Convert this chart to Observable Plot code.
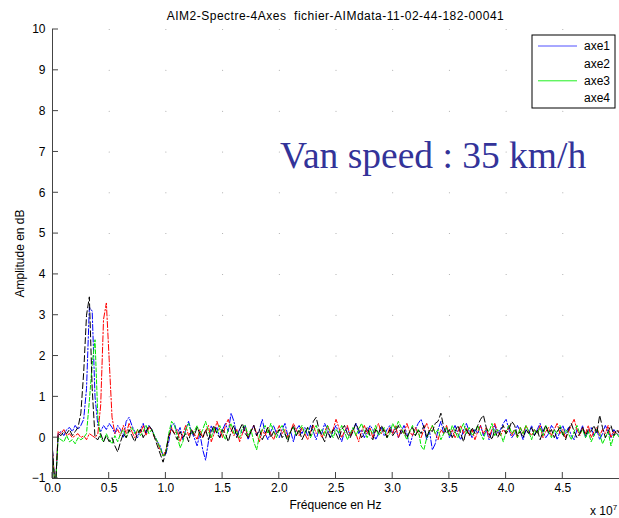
<!DOCTYPE html>
<html><head><meta charset="utf-8">
<script src="https://cdn.jsdelivr.net/npm/d3@7"></script>
<script src="https://cdn.jsdelivr.net/npm/@observablehq/plot@0.6"></script>
<style>body{margin:0;background:#fff}#chart{position:relative;width:619px;height:518px}</style>
</head><body><div id="chart"></div>
<script>
const titleText = "AIM2-Spectre-4Axes  fichier-AIMdata-11-02-44-182-00041";
const xLabel = "Fréquence en Hz";
const yLabel = "Amplitude en dB";
const annotation = "Van speed : 35 km/h";
const seriesNames = ["axe1", "axe2", "axe3", "axe4"];
const seriesColors = ["#0000ff", "#ff0000", "#00e600", "#000000"];
const legendColors = ["#5050ff", "#ff0000", "#20f020", "#000000"];
const seriesDash = ["6,2,1.5,2", "6,2,1.5,2", "4,2", "6,3"];
const legendShowLine = [true, false, true, false];
const xTicks = [0, 0.5, 1, 1.5, 2, 2.5, 3, 3.5, 4, 4.5];
const yTicks = [-1, 0, 1, 2, 3, 4, 5, 6, 7, 8, 9, 10];
const freqStep = 0.025; // bin width, in units of 10^7 Hz

const axe1 = [
-0.3,-1.3,0.1,0.15,0.05,0.2,0.25,0.15,0.3,0.2,
0.3,0.45,1.2,3.2,3.1,1.0,0.3,0.15,0.3,0.2,
0.35,0.25,0.1,0.3,0.2,0.0,0.4,0.5,0.3,0.15,
0.0,0.2,0.35,0.1,0.3,0.2,0.05,-0.1,-0.2,-0.45,
-0.4,-0.1,0.3,0.35,0.1,0.25,-0.05,0.2,0.4,0.15,
0.0,-0.2,0.1,-0.3,-0.55,-0.1,0.3,0.1,0.25,0.0,
0.2,0.35,0.15,0.6,0.4,0.05,0.2,0.1,0.3,-0.05,
0.15,0.3,0.05,0.2,0.45,0.1,-0.05,0.15,0.3,0.1,
0.0,0.2,0.35,0.05,0.15,-0.1,0.2,0.3,0.1,0.25,
0.05,0.3,0.15,-0.05,0.2,0.1,0.35,0.2,0.0,0.15,
0.3,0.1,-0.1,0.15,0.25,0.05,0.2,0.35,0.1,0.2,
0.0,0.15,0.3,0.2,-0.05,0.1,0.25,0.05,0.2,0.3,
0.1,0.25,0.0,0.15,0.3,0.1,-0.2,0.05,0.2,0.35,
0.45,0.25,-0.05,0.15,-0.3,-0.15,0.2,0.4,0.1,0.25,
0.0,0.15,0.3,0.1,-0.05,0.2,0.35,0.15,0.0,0.2,
0.1,0.3,0.05,0.2,-0.05,0.15,0.3,0.1,0.2,0.35,
0.45,0.2,0.0,0.1,0.3,0.15,-0.05,0.2,0.1,0.3,
0.05,0.2,0.35,0.15,0.0,0.1,0.3,0.2,-0.05,0.15,
0.3,0.1,0.25,0.05,-0.05,0.2,0.1,0.3,0.0,0.15,
0.25,0.05,0.2,-0.05,0.1,0.3,0.15,0.0,0.2,0.1,0.05];
const axe2 = [
-0.35,-1.3,0.15,0.1,0.2,0.05,0.1,0.0,0.05,0.1,
0.0,0.05,-0.05,0.1,0.05,0.0,0.1,0.8,2.9,3.3,
1.9,0.5,0.1,0.2,0.05,0.3,0.1,0.35,0.15,0.0,
0.2,0.1,0.3,0.05,0.25,0.2,0.0,-0.1,-0.3,-0.45,
-0.3,0.0,0.25,0.1,0.2,-0.1,0.1,0.3,0.05,0.2,
0.1,-0.05,0.2,0.0,0.15,0.3,-0.1,0.1,0.4,0.2,
0.0,0.3,0.45,0.2,0.05,0.2,-0.1,0.1,0.25,0.0,
0.15,0.3,0.1,-0.1,0.2,0.05,0.25,0.1,-0.05,0.15,
0.3,0.1,0.2,0.0,0.15,0.35,0.2,0.05,0.25,0.1,
-0.05,0.15,0.3,0.1,0.2,0.0,0.15,0.3,0.1,0.2,
0.45,0.25,0.0,0.15,0.3,0.05,0.2,0.1,-0.1,0.15,
0.3,0.1,0.25,0.0,0.2,0.35,0.1,0.2,0.05,0.25,
0.1,0.3,0.0,0.2,0.1,0.35,0.15,0.05,0.25,0.1,
0.0,0.2,0.35,0.15,0.3,0.1,-0.05,0.2,0.1,0.3,
0.05,0.2,0.0,0.15,0.3,0.1,0.25,0.05,0.2,-0.05,
0.15,0.3,0.1,0.25,0.0,0.2,0.35,0.15,0.05,0.2,
0.1,0.3,0.05,0.2,0.0,0.25,0.1,0.3,0.15,0.05,
0.2,0.1,0.3,0.0,0.15,0.25,0.05,0.2,0.35,0.1,
0.2,0.0,0.15,0.3,0.45,0.2,0.05,0.25,0.1,0.3,
0.0,0.15,0.25,0.05,0.2,0.1,0.3,0.0,0.15,0.1,0.2];
const axe3 = [
-0.45,-1.3,0.0,-0.05,-0.1,0.05,-0.1,-0.05,-0.15,0.0,
-0.05,0.0,0.1,0.9,1.8,2.4,0.5,0.0,-0.1,0.1,
-0.05,-0.15,0.05,-0.1,0.1,0.2,0.0,0.15,0.25,0.1,
0.2,0.05,0.15,0.3,0.1,0.2,0.05,-0.1,-0.25,-0.45,
-0.35,0.1,0.4,0.3,0.05,-0.25,-0.1,0.2,0.35,0.1,
0.15,0.3,0.05,0.2,0.4,0.15,0.0,0.25,0.1,0.3,
0.1,-0.05,0.2,0.35,0.1,0.15,0.0,0.25,0.3,0.05,
0.2,-0.1,-0.3,0.05,0.2,0.3,0.1,0.35,0.15,0.0,
0.2,0.3,0.1,-0.05,0.15,0.25,0.05,0.2,0.3,0.1,
0.25,0.0,0.15,0.3,0.1,0.2,0.05,0.3,0.15,0.0,
0.2,0.1,0.3,0.15,-0.05,0.1,0.25,0.05,0.2,0.35,
0.15,0.0,0.2,0.1,0.3,0.05,0.15,0.25,0.0,0.1,
0.35,0.2,0.4,0.25,0.1,-0.05,0.15,0.3,0.05,0.2,
-0.2,-0.3,0.0,0.15,0.3,0.1,0.2,-0.05,0.1,0.25,
0.05,0.3,0.15,0.0,0.2,0.35,0.1,0.25,0.05,0.15,
0.3,0.1,-0.05,0.2,0.15,0.35,0.05,0.2,0.1,-0.1,
0.15,0.3,0.1,0.2,0.0,0.25,0.1,0.3,0.15,-0.05,
0.2,0.1,0.25,0.05,0.3,0.15,0.0,0.2,0.1,0.3,
0.05,0.2,0.1,-0.05,0.15,0.3,0.1,0.2,0.0,0.15,
-0.1,0.05,0.2,0.1,-0.15,0.0,0.15,-0.2,0.05,0.1,0.0];
const axe4 = [
-0.3,-1.3,0.1,0.05,0.15,0.1,0.2,0.05,0.15,0.25,
0.6,1.6,3.0,3.45,1.2,0.0,-0.05,0.1,-0.1,0.05,
-0.1,0.0,-0.2,-0.35,-0.1,0.1,0.0,0.2,0.05,-0.1,
0.1,0.2,0.0,0.15,0.3,0.2,0.0,-0.2,-0.4,-0.6,
-0.35,0.05,0.2,0.1,-0.05,0.15,0.0,0.1,-0.1,0.2,
0.05,0.25,0.1,0.0,0.2,-0.05,0.15,0.3,0.1,0.0,
0.2,0.1,-0.1,0.15,0.3,0.0,0.2,0.35,0.1,0.0,
0.15,0.3,0.05,0.2,-0.05,0.1,0.25,0.0,0.15,0.1,
0.2,0.0,0.1,-0.1,0.15,0.3,0.05,0.2,-0.05,0.1,
0.25,0.05,0.4,0.5,0.2,0.05,-0.1,0.15,0.0,0.2,
0.1,-0.05,0.2,0.3,0.1,0.0,0.15,0.35,0.2,0.0,
0.1,0.25,0.05,-0.05,0.2,0.1,0.3,0.15,0.0,0.2,
0.05,0.15,0.3,0.1,0.2,0.0,0.15,0.25,0.05,0.2,
0.1,0.3,0.0,0.2,0.15,0.35,0.4,0.6,0.25,0.1,
0.2,0.0,0.15,0.3,0.1,-0.1,0.2,0.05,0.25,0.1,
0.3,0.45,0.55,0.25,0.1,-0.05,0.2,0.0,0.15,0.3,
0.1,0.2,0.4,0.3,0.05,0.15,0.0,0.2,0.1,0.25,
0.05,0.2,-0.05,0.15,0.3,0.1,0.2,0.0,0.15,0.25,
0.1,-0.05,0.2,0.35,0.15,0.0,0.1,0.25,0.05,0.2,
0.15,0.3,0.1,0.55,0.25,0.0,0.15,0.3,0.05,0.2,0.1];

const seriesValues = [axe1, axe2, axe3, axe4];
const rows = seriesValues.map((vals, k) => vals.map((v, i) => ({f: i * freqStep, v, s: seriesNames[k]})));
// faint remnants of the dotted grid at tick intersections
const gridPts = xTicks.filter(d => d > 0).flatMap(x => yTicks.filter(d => d > 0).map(y => ({x, y})));

const font = "'Liberation Sans', Arial, sans-serif";
const chart = Plot.plot({
  width: 619, height: 518,
  marginLeft: 52, marginRight: 0, marginTop: 29, marginBottom: 40,
  style: {fontFamily: font, fontSize: "12px", background: "#fff", color: "#000"},
  x: {domain: [0, 5], ticks: xTicks, tickFormat: d => String(d)},
  y: {domain: [-1, 10], ticks: yTicks, tickFormat: d => String(d)},
  marks: [
    Plot.dot(gridPts, {x: "x", y: "y", r: 0.5, fill: "#999", stroke: null}),
    ...rows.map((r, k) => Plot.line(r, {x: "f", y: "v", stroke: seriesColors[k], strokeWidth: 1, strokeDasharray: seriesDash[k], clip: true})),
    Plot.axisX({ticks: xTicks, tickSize: 0, tickPadding: 5, label: null, fontSize: 12}),
    Plot.axisY({ticks: yTicks, tickSize: 0, tickPadding: 7, label: null, fontSize: 12}),
    Plot.ruleX([0], {stroke: "#444"}),
    Plot.ruleY([-1], {stroke: "#444"})
  ]
});
document.getElementById("chart").appendChild(chart);

const svg = d3.select(chart);
const sx = chart.scale("x"), sy = chart.scale("y");
const x0 = sx.apply(0), y0 = sy.apply(-1);
const xEnd = sx.apply(5), yTop = sy.apply(10);
const g = svg.append("g").attr("font-family", font).attr("text-anchor", "start");
// inward ticks
g.selectAll(".xt").data(xTicks).join("line")
  .attr("x1", d => sx.apply(d)).attr("x2", d => sx.apply(d))
  .attr("y1", y0).attr("y2", y0 - 6).attr("stroke", "#444");
g.selectAll(".yt").data(yTicks).join("line")
  .attr("x1", x0).attr("x2", x0 + 6)
  .attr("y1", d => sy.apply(d)).attr("y2", d => sy.apply(d)).attr("stroke", "#444");
// title
g.append("text").attr("x", (x0 + xEnd) / 2).attr("y", 20).attr("text-anchor", "middle")
  .attr("font-size", 12).attr("letter-spacing", 0.5).text(titleText);
// axis labels
g.append("text").attr("x", (x0 + xEnd) / 2).attr("y", 509).attr("text-anchor", "middle")
  .attr("font-size", 12).text(xLabel);
g.append("text").attr("transform", `translate(24,${(y0 + yTop) / 2}) rotate(-90)`).attr("text-anchor", "middle")
  .attr("font-size", 12).text(yLabel);
// exponent
const ex = g.append("text").attr("x", 590).attr("y", 515).attr("font-size", 12).text("x 10");
ex.append("tspan").attr("dy", -5).attr("font-size", 8).text("7");
// annotation
g.append("text").attr("x", 280).attr("y", 168).attr("font-family", "'Liberation Serif', 'Times New Roman', serif")
  .attr("font-size", 37.5).attr("fill", "#333399").text(annotation);
// legend
const lg = g.append("g");
lg.append("rect").attr("x", 532).attr("y", 35).attr("width", 83).attr("height", 73)
  .attr("fill", "#fff").attr("stroke", "#000").attr("stroke-width", 1);
seriesNames.forEach((name, k) => {
  const yy = 46 + k * 17.4;
  if (legendShowLine[k]) lg.append("line").attr("x1", 538).attr("x2", 577).attr("y1", yy).attr("y2", yy)
    .attr("stroke", legendColors[k]).attr("stroke-width", 1);
  lg.append("text").attr("x", 610).attr("y", yy).attr("dy", "0.35em").attr("text-anchor", "end")
    .attr("font-size", 12).text(name);
});
</script></body></html>
